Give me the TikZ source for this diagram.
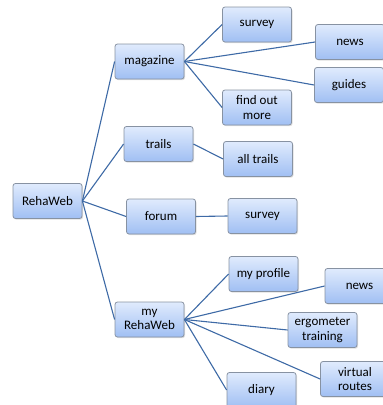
\documentclass[tikz,border=0pt]{standalone}
\usepackage{fontspec}
\setmainfont{Carlito}
\usetikzlibrary{shadows}
\definecolor{boxtop}{RGB}{224,235,253}
\definecolor{boxbottom}{RGB}{160,191,243}
\definecolor{boxline}{RGB}{135,146,162}
\definecolor{linkblue}{RGB}{62,106,166}
\tikzset{
  page/.style={draw=boxline,line width=0.8pt,rounded corners=2.5pt,top color=boxtop,bottom color=boxbottom,minimum width=69pt,minimum height=35pt,inner sep=1pt,align=center,font=\fontsize{13}{14.5}\selectfont,drop shadow={opacity=0.25,shadow xshift=1pt,shadow yshift=-1.2pt}},
  link/.style={draw=linkblue,line width=1.1pt}
}
\begin{document}
\begin{tikzpicture}[x=1pt,y=-1pt]
\useasboundingbox (0,0) rectangle (383,405);
\node[page] (rehaweb) at (47.5,201) {RehaWeb};
\node[page] (magazine) at (149.5,61.5) {magazine};
\node[page] (trails) at (158.5,144) {trails};
\node[page] (forum) at (161,216.5) {forum};
\node[page] (myrehaweb) at (149.5,319.5) {my\\RehaWeb};
\node[page] (survey) at (257,24.5) {survey};
\node[page] (news) at (350,42) {news};
\node[page] (guides) at (349,85) {guides};
\node[page] (findout) at (257,107.5) {find out\\more};
\node[page] (alltrails) at (258,159) {all trails};
\node[page] (forumsurvey) at (262.5,216) {survey};
\node[page] (myprofile) at (263.5,274) {my profile};
\node[page] (mynews) at (359.5,286) {news};
\node[page] (ergometer) at (322.5,330) {ergometer\\training};
\node[page] (virtual) at (355,379) {virtual\\routes};
\node[page] (diary) at (261.5,390) {diary};
\draw[link] (rehaweb.east) -- (magazine.west);
\draw[link] (rehaweb.east) -- (trails.west);
\draw[link] (rehaweb.east) -- (forum.west);
\draw[link] (rehaweb.east) -- (myrehaweb.west);
\draw[link] (magazine.east) -- (survey.west);
\draw[link] (magazine.east) -- (news.west);
\draw[link] (magazine.east) -- (guides.west);
\draw[link] (magazine.east) -- (findout.west);
\draw[link] (trails.east) -- (alltrails.west);
\draw[link] (forum.east) -- (forumsurvey.west);
\draw[link] (myrehaweb.east) -- (myprofile.west);
\draw[link] (myrehaweb.east) -- (mynews.west);
\draw[link] (myrehaweb.east) -- (ergometer.west);
\draw[link] (myrehaweb.east) -- (virtual.west);
\draw[link] (myrehaweb.east) -- (diary.west);
\end{tikzpicture}
\end{document}
